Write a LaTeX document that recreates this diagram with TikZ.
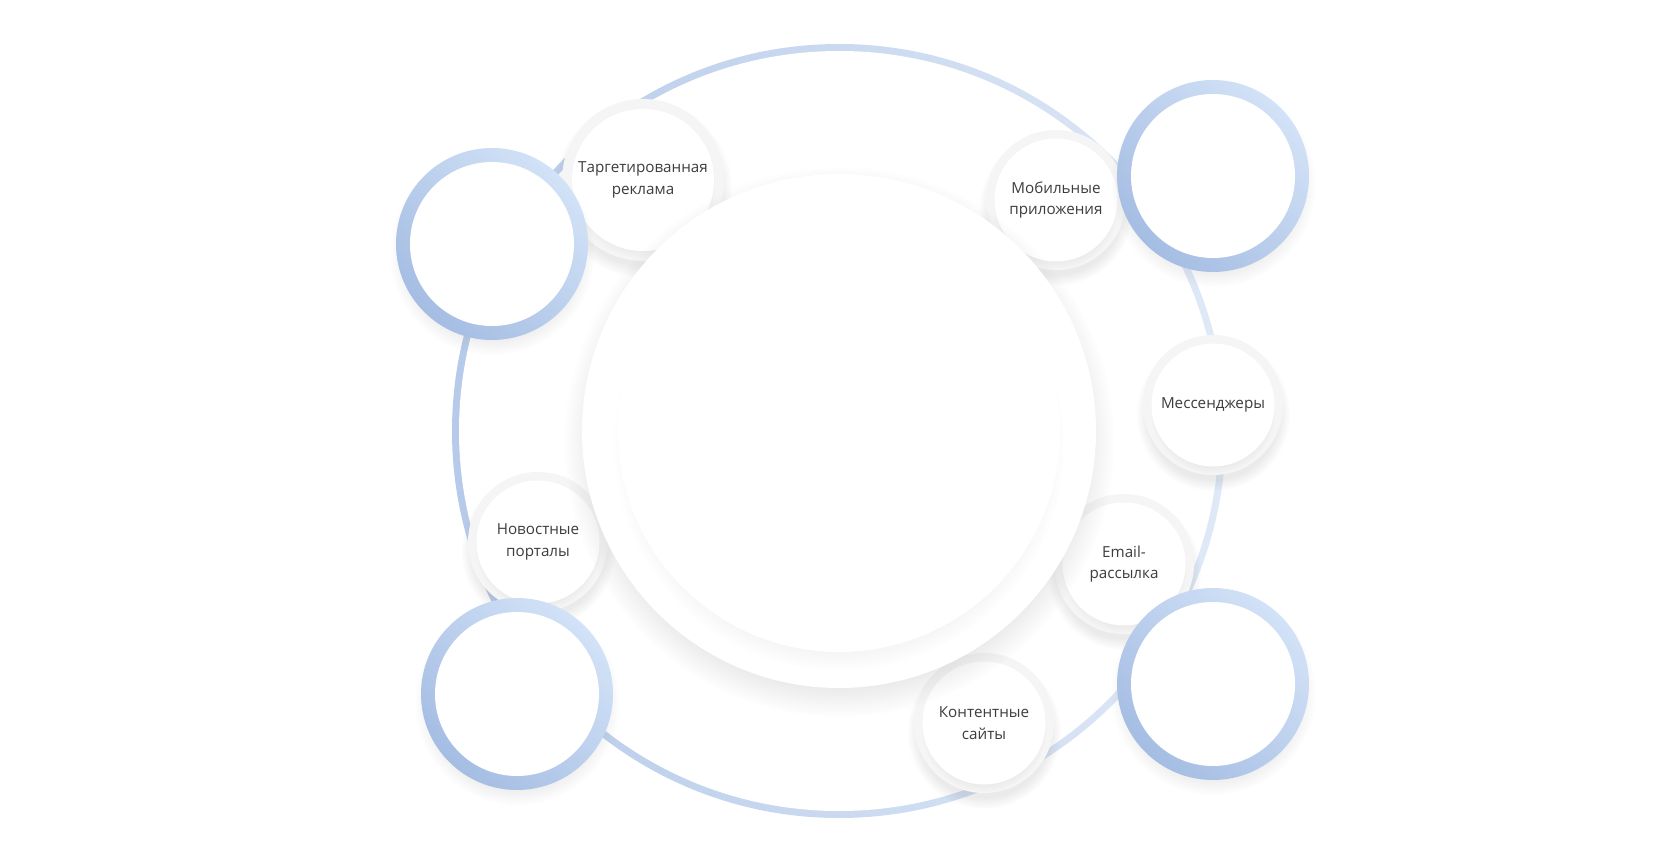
\documentclass[tikz,border=0pt]{standalone}
\usepackage{fontspec}
\setmainfont{Open Sans}
\usetikzlibrary{shadows}

\definecolor{ringdark}{HTML}{A5BDE3}
\definecolor{ringlight}{HTML}{D2E2F7}
\definecolor{orbitdark}{HTML}{B6CAE9}
\definecolor{orbitlight}{HTML}{DFE9F7}
\definecolor{labeltext}{HTML}{3D3D3D}

\begin{document}
\begin{tikzpicture}[
    x=0.5pt, y=-0.5pt,
    font=\fontsize{7.6}{10.7}\selectfont,
    hub/.style={circle, inner sep=0pt, minimum size=257pt, fill=white, circular drop shadow={shadow xshift=0pt, shadow yshift=-5pt, shadow scale=1.07, opacity=.22}},
    hubface/.style={circle, inner sep=0pt, minimum size=221pt, fill=white, circular drop shadow={shadow xshift=0pt, shadow yshift=-7pt, shadow scale=1.02, opacity=.13}},
    ball/.style={circle, inner sep=0pt, minimum size=70pt, fill=black!4, circular drop shadow={shadow xshift=0pt, shadow yshift=-4pt, shadow scale=1.1, opacity=.16}},
    face/.style={circle, inner sep=0pt, minimum size=61.5pt, fill=white, align=center, text=labeltext, circular drop shadow={shadow xshift=0pt, shadow yshift=-3pt, shadow scale=1.02, opacity=.1}},
    bluering/.style={circle, inner sep=0pt, minimum size=96pt, top color=ringlight, bottom color=ringdark, shading angle=-45, circular drop shadow={shadow xshift=0pt, shadow yshift=-4pt, shadow scale=1.07, opacity=.12}},
    hole/.style={circle, inner sep=0pt, minimum size=82pt, fill=white}
]
\fill[white] (0,0) rectangle (1680,861);
\useasboundingbox (0,0) rectangle (1680,861);

% Orbit
\coordinate (mid) at (839,431);
\shade[left color=orbitdark, right color=orbitlight] (mid) circle[radius=387];
\fill[white] (mid) circle[radius=380];

% Channels
\node[ball, minimum size=81pt] (tgt) at (643,180) {};
\node[face, minimum size=71pt] (tgt-txt) at (tgt) {Таргетированная\\реклама};

\node[ball] (mob) at (1056,200) {};
\node[face] (mob-txt) at (mob) {Мобильные\\приложения};

\node[ball] (msg) at (1213,405) {};
\node[face] (msg-txt) at (msg) {Мессенджеры};

\node[ball] (news) at (538,542) {};
\node[face] (news-txt) at (news) {Новостные\\порталы};

\node[ball] (mail) at (1124,564) {};
\node[face] (mail-txt) at (mail) {Email-\\рассылка};

\node[ball] (cont) at (984,723) {};
\node[face] (cont-txt) at (cont) {Контентные\\сайты};

% Center
\node[hub] (core) at (mid) {};
\node[hubface] (core-in) at (core) {};

% Blue rings
\node[bluering] (ring-tl) at (492,244) {};
\node[hole] (hole-tl) at (ring-tl) {};
\node[bluering] (ring-tr) at (1213,176) {};
\node[hole] (hole-tr) at (ring-tr) {};
\node[bluering] (ring-bl) at (517,694) {};
\node[hole] (hole-bl) at (ring-bl) {};
\node[bluering] (ring-br) at (1213,684) {};
\node[hole] (hole-br) at (ring-br) {};

\end{tikzpicture}
\end{document}
